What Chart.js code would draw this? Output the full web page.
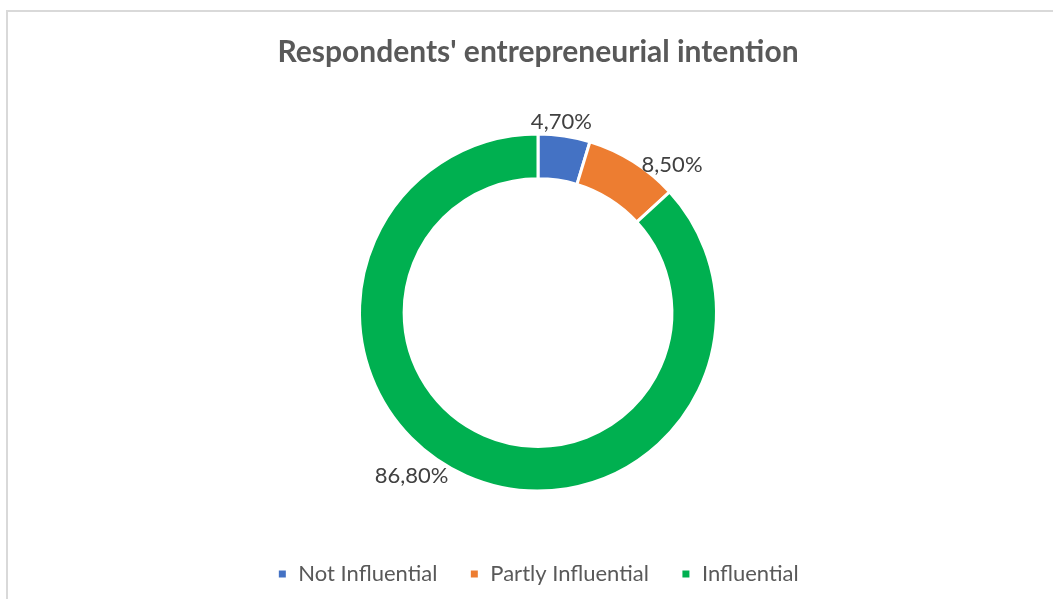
<!DOCTYPE html>
<html>
<head>
<meta charset="utf-8">
<script src="https://cdn.jsdelivr.net/npm/chart.js@4/dist/chart.umd.min.js"></script>
<style>
    html, body { margin: 0; padding: 0; background: #fff; overflow: hidden; }
    #quadro {
        position: absolute; left: 6px; top: 10px;
        width: 1060px; height: 600px;
        border: 2px solid #d9d9d9; box-sizing: border-box;
        background: #fff;
    }
    #grafico { position: absolute; left: 0; top: 0; }
</style>
</head>
<body>
<div id="quadro"><canvas id="grafico" width="1060" height="589"></canvas></div>
<script>
// dados do gráfico
const categorias = ['Not Influential', 'Partly Influential', 'Influential'];
const percentuais = [4.7, 8.5, 86.8];
const cores = ['#4472C4', '#ED7D31', '#00B050'];

// ajustes finos dos rótulos (graus / px)
const deslocAngulo = [-1.5, 10, 14];
const folgaRaio = [14, 21, 28];

const formatar = (v) => v.toFixed(2).replace('.', ',') + '%';

const rotulosFora = {
    id: 'rotulosFora',
    afterDatasetsDraw(chart) {
        const ctx = chart.ctx;
        const meta = chart.getDatasetMeta(0);
        ctx.save();
        ctx.font = '22px Lato, "Open Sans", sans-serif';
        ctx.fillStyle = '#404040';
        ctx.textAlign = 'center';
        ctx.textBaseline = 'middle';
        meta.data.forEach((arco, i) => {
            const p = arco.getProps(['x', 'y', 'startAngle', 'endAngle', 'outerRadius'], true);
            const meio = (p.startAngle + p.endAngle) / 2 + deslocAngulo[i] * Math.PI / 180;
            const r = p.outerRadius + folgaRaio[i];
            ctx.fillText(formatar(percentuais[i]), p.x + Math.cos(meio) * r, p.y + Math.sin(meio) * r);
        });
        ctx.restore();
    }
};

new Chart(document.getElementById('grafico').getContext('2d'), {
    type: 'doughnut',
    data: {
        labels: categorias,
        datasets: [{
            data: percentuais,
            backgroundColor: cores,
            borderColor: '#ffffff',
            borderWidth: 3,
            radius: 178.5
        }]
    },
    options: {
        responsive: false,
        animation: false,
        cutout: '75%',
        layout: { padding: { bottom: 6 } },
        plugins: {
            title: {
                display: true,
                text: "Respondents' entrepreneurial intention",
                color: '#595959',
                font: { family: 'Lato, "Open Sans", sans-serif', size: 30, weight: 'bold' },
                padding: { top: 22, bottom: 24 }
            },
            legend: {
                position: 'bottom',
                labels: {
                    color: '#595959',
                    font: { family: 'Lato, "Open Sans", sans-serif', size: 22 },
                    boxWidth: 10,
                    boxHeight: 10,
                    padding: 32
                }
            },
            tooltip: { enabled: false }
        }
    },
    plugins: [rotulosFora]
});
</script>
</body>
</html>
